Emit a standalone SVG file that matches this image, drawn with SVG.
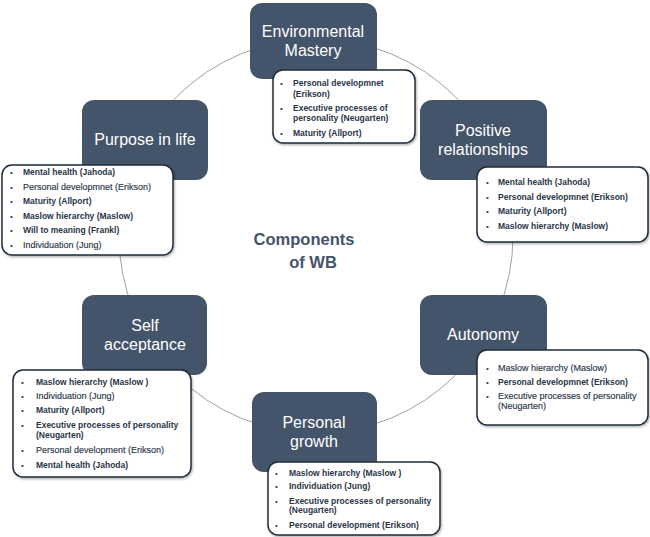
<svg xmlns="http://www.w3.org/2000/svg" width="650" height="537" viewBox="0 0 650 537">
<style>
.dark{fill:#44546A;}
.title{font-family:"Liberation Sans",Arial,sans-serif;font-size:16px;fill:#FFFFFF;text-anchor:middle;}
.card{fill:#FFFFFF;stroke:#1F2B3B;stroke-width:1.5;filter:url(#sh);}
.t{font-family:"Liberation Sans",Arial,sans-serif;font-size:9px;fill:#2A3647;stroke:#2A3647;stroke-width:0.15;}
.b{font-weight:bold;font-size:8.5px;stroke-width:0;}
.bul{font-family:"Liberation Sans",Arial,sans-serif;font-size:8px;fill:#333F50;}
.center{font-family:"Liberation Sans",Arial,sans-serif;font-size:16.5px;font-weight:bold;fill:#44546A;text-anchor:middle;}
</style>
<defs>
<filter id="sh" x="-10%" y="-10%" width="120%" height="130%">
<feDropShadow dx="1" dy="1.5" stdDeviation="1.2" flood-color="#000" flood-opacity="0.3"/>
</filter>
</defs>
<rect width="650" height="537" fill="#FFFFFF"/>
<g id="connectors">
<circle cx="316" cy="236" r="197" fill="none" stroke="#A0A0A0" stroke-width="1"/>
</g>
<g id="center-title">
<text class="center" x="304" y="245">Components</text>
<text class="center" x="313" y="268">of WB</text>
</g>
<g id="environmental-mastery">
<rect class="dark" x="250" y="3" width="127" height="76" rx="12"/>
<text class="title" x="313" y="37">Environmental</text>
<text class="title" x="313" y="56">Mastery</text>
<rect class="card" x="273" y="70" width="142" height="73" rx="10"/>
<text class="bul" x="280" y="86">•</text><text class="t b" x="293" y="86">Personal developmnet</text>
<text class="t b" x="293" y="96.5">(Erikson)</text>
<text class="bul" x="280" y="111">•</text><text class="t b" x="293" y="111">Executive processes of</text>
<text class="t b" x="293" y="121">personality (Neugarten)</text>
<text class="bul" x="280" y="136">•</text><text class="t b" x="293" y="136">Maturity (Allport)</text>
</g>
<g id="purpose-in-life">
<rect class="dark" x="82" y="100" width="126" height="80" rx="12"/>
<text class="title" x="145" y="145">Purpose in life</text>
<rect class="card" x="2" y="165" width="171" height="90" rx="10"/>
<text class="bul" x="10" y="175">•</text><text class="t b" x="23" y="175">Mental health (Jahoda)</text>
<text class="bul" x="10" y="190">•</text><text class="t" x="23" y="190">Personal developmnet (Erikson)</text>
<text class="bul" x="10" y="204">•</text><text class="t b" x="23" y="204">Maturity (Allport)</text>
<text class="bul" x="10" y="219">•</text><text class="t b" x="23" y="219">Maslow hierarchy (Maslow)</text>
<text class="bul" x="10" y="233">•</text><text class="t b" x="23" y="233">Will to meaning (Frankl)</text>
<text class="bul" x="10" y="248">•</text><text class="t" x="23" y="248">Individuation (Jung)</text>
</g>
<g id="positive-relationships">
<rect class="dark" x="420" y="100" width="127" height="80" rx="12"/>
<text class="title" x="483" y="136">Positive</text>
<text class="title" x="483" y="155">relationships</text>
<rect class="card" x="477" y="167" width="171" height="75" rx="10"/>
<text class="bul" x="486" y="185">•</text><text class="t b" x="498" y="185">Mental health (Jahoda)</text>
<text class="bul" x="486" y="200">•</text><text class="t b" x="498" y="200">Personal developmnet (Erikson)</text>
<text class="bul" x="486" y="214">•</text><text class="t b" x="498" y="214">Maturity (Allport)</text>
<text class="bul" x="486" y="229">•</text><text class="t b" x="498" y="229">Maslow hierarchy (Maslow)</text>
</g>
<g id="self-acceptance">
<rect class="dark" x="82" y="295" width="125" height="80" rx="12"/>
<text class="title" x="145" y="331">Self</text>
<text class="title" x="145" y="350">acceptance</text>
<rect class="card" x="13" y="370" width="178" height="107" rx="10"/>
<text class="bul" x="21" y="385">•</text><text class="t b" x="36" y="385">Maslow hierarchy (Maslow )</text>
<text class="bul" x="21" y="399">•</text><text class="t" x="36" y="399">Individuation (Jung)</text>
<text class="bul" x="21" y="413">•</text><text class="t b" x="36" y="413">Maturity (Allport)</text>
<text class="bul" x="21" y="428">•</text><text class="t b" x="36" y="428">Executive processes of personality</text>
<text class="t b" x="36" y="438">(Neugarten)</text>
<text class="bul" x="21" y="453">•</text><text class="t" x="36" y="453">Personal development (Erikson)</text>
<text class="bul" x="21" y="468">•</text><text class="t b" x="36" y="468">Mental health (Jahoda)</text>
</g>
<g id="autonomy">
<rect class="dark" x="420" y="295" width="127" height="80" rx="12"/>
<text class="title" x="483" y="340">Autonomy</text>
<rect class="card" x="477" y="350" width="171" height="75" rx="10"/>
<text class="bul" x="486" y="371">•</text><text class="t" x="498" y="371">Maslow hierarchy (Maslow)</text>
<text class="bul" x="486" y="385">•</text><text class="t b" x="498" y="385">Personal developmnet (Erikson)</text>
<text class="bul" x="486" y="399">•</text><text class="t" x="498" y="399">Executive processes of personality</text>
<text class="t" x="498" y="409">(Neugarten)</text>
</g>
<g id="personal-growth">
<rect class="dark" x="252" y="392" width="125" height="80" rx="12"/>
<text class="title" x="314" y="428">Personal</text>
<text class="title" x="314" y="447">growth</text>
<rect class="card" x="268" y="462" width="172" height="73" rx="10"/>
<text class="bul" x="275" y="476">•</text><text class="t b" x="289" y="476">Maslow hierarchy (Maslow )</text>
<text class="bul" x="275" y="489">•</text><text class="t b" x="289" y="489">Individuation (Jung)</text>
<text class="bul" x="275" y="504">•</text><text class="t b" x="289" y="504">Executive processes of personality</text>
<text class="t b" x="289" y="513">(Neugarten)</text>
<text class="bul" x="275" y="528">•</text><text class="t b" x="289" y="528">Personal development (Erikson)</text>
</g>
</svg>
